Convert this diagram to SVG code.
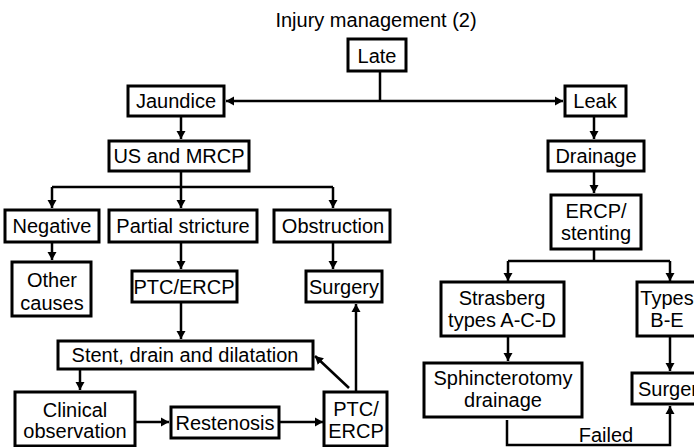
<svg xmlns="http://www.w3.org/2000/svg" width="694" height="447" viewBox="0 0 694 447">
  <defs>
    <style>
      .box { fill: #ffffff; stroke: #000000; stroke-width: 3; }
      .lbl { font-family: "Liberation Sans", Arial, sans-serif; font-size: 20px; fill: #000000; text-anchor: middle; }
      .title { font-family: "Liberation Sans", Arial, sans-serif; font-size: 20px; fill: #000000; text-anchor: middle; }
      .con { fill: none; stroke: #000000; stroke-width: 2.5; }
    </style>
    <marker id="arr" markerUnits="userSpaceOnUse" markerWidth="10" markerHeight="10" refX="8" refY="5" orient="auto">
      <path d="M0,0.5 L8,5 L0,9.5 Z" fill="#000000"/>
    </marker>
  </defs>
  <rect width="694" height="447" fill="#ffffff"/>

  <text class="title" x="376" y="27">Injury management (2)</text>

  <!-- connectors -->
  <g id="connectors">
    <path class="con" d="M380,71 V101"/>
    <path class="con" d="M380,101 H226" marker-end="url(#arr)"/>
    <path class="con" d="M380,101 H563" marker-end="url(#arr)"/>
    <path class="con" d="M181,116 V139" marker-end="url(#arr)"/>
    <path class="con" d="M181,171 V187 M52,187 H333"/>
    <path class="con" d="M52,187 V208" marker-end="url(#arr)"/>
    <path class="con" d="M181,187 V208" marker-end="url(#arr)"/>
    <path class="con" d="M333,187 V208" marker-end="url(#arr)"/>
    <path class="con" d="M52,242 V260" marker-end="url(#arr)"/>
    <path class="con" d="M181,242 V269" marker-end="url(#arr)"/>
    <path class="con" d="M333,242 V269" marker-end="url(#arr)"/>
    <path class="con" d="M181,302 V339" marker-end="url(#arr)"/>
    <path class="con" d="M80,369 V390" marker-end="url(#arr)"/>
    <path class="con" d="M135,422 H169" marker-end="url(#arr)"/>
    <path class="con" d="M279,422 H323" marker-end="url(#arr)"/>
    <path class="con" d="M356,392 V304" marker-end="url(#arr)"/>
    <path class="con" d="M349,388 L315,356" marker-end="url(#arr)"/>
    <path class="con" d="M594,116 V139" marker-end="url(#arr)"/>
    <path class="con" d="M594,171 V193" marker-end="url(#arr)"/>
    <path class="con" d="M594,249 V261 M508,261 H670"/>
    <path class="con" d="M508,261 V281" marker-end="url(#arr)"/>
    <path class="con" d="M670,261 V281" marker-end="url(#arr)"/>
    <path class="con" d="M508,336 V361" marker-end="url(#arr)"/>
    <path class="con" d="M670,336 V371" marker-end="url(#arr)"/>
    <path class="con" d="M507,420 V445 H670 V406" marker-end="url(#arr)"/>
    <text class="lbl" x="606" y="442">Failed</text>
  </g>

  <g id="late"><rect class="box" x="348" y="39" width="58" height="32"/><text class="lbl" x="377" y="63">Late</text></g>
  <g id="jaundice"><rect class="box" x="128" y="86" width="96" height="30"/><text class="lbl" x="176" y="108">Jaundice</text></g>
  <g id="leak"><rect class="box" x="565" y="86" width="61" height="30"/><text class="lbl" x="595" y="108">Leak</text></g>
  <g id="us-mrcp"><rect class="box" x="109" y="141" width="140" height="30"/><text class="lbl" x="179" y="163">US and MRCP</text></g>
  <g id="drainage"><rect class="box" x="548" y="141" width="96" height="30"/><text class="lbl" x="596" y="163">Drainage</text></g>
  <g id="ercp-stenting"><rect class="box" x="551" y="195" width="90" height="54"/><text class="lbl" x="596" y="218">ERCP/</text><text class="lbl" x="596" y="240">stenting</text></g>
  <g id="negative"><rect class="box" x="5" y="210" width="94" height="32"/><text class="lbl" x="52" y="233">Negative</text></g>
  <g id="partial-stricture"><rect class="box" x="109" y="210" width="148" height="32"/><text class="lbl" x="183" y="233">Partial stricture</text></g>
  <g id="obstruction"><rect class="box" x="274" y="210" width="116" height="32"/><text class="lbl" x="333" y="233">Obstruction</text></g>
  <g id="other-causes"><rect class="box" x="12" y="262" width="79" height="54"/><text class="lbl" x="52" y="287">Other</text><text class="lbl" x="52" y="310">causes</text></g>
  <g id="ptc-ercp-1"><rect class="box" x="132" y="271" width="105" height="31"/><text class="lbl" x="184" y="294">PTC/ERCP</text></g>
  <g id="surgery-1"><rect class="box" x="306" y="271" width="76" height="31"/><text class="lbl" x="344" y="294">Surgery</text></g>
  <g id="stent"><rect class="box" x="58" y="341" width="255" height="28"/><text class="lbl" x="185" y="362">Stent, drain and dilatation</text></g>
  <g id="clinical"><rect class="box" x="15" y="392" width="120" height="54"/><text class="lbl" x="75" y="417">Clinical</text><text class="lbl" x="75" y="438">observation</text></g>
  <g id="restenosis"><rect class="box" x="171" y="407" width="108" height="31"/><text class="lbl" x="225" y="430">Restenosis</text></g>
  <g id="ptc-ercp-2"><rect class="box" x="324" y="392" width="63" height="54"/><text class="lbl" x="356" y="416">PTC/</text><text class="lbl" x="356" y="438">ERCP</text></g>
  <g id="strasberg"><rect class="box" x="441" y="282" width="123" height="54"/><text class="lbl" x="502" y="305">Strasberg</text><text class="lbl" x="502" y="327">types A-C-D</text></g>
  <g id="types-be"><rect class="box" x="637" y="282" width="62" height="54"/><text class="lbl" x="667" y="305">Types</text><text class="lbl" x="667" y="327">B-E</text></g>
  <g id="sphincterotomy"><rect class="box" x="424" y="363" width="158" height="54"/><text class="lbl" x="503" y="385">Sphincterotomy</text><text class="lbl" x="503" y="407">drainage</text></g>
  <g id="surgery-2"><rect class="box" x="632" y="373" width="82" height="31"/><text class="lbl" x="673" y="396">Surgery</text></g>
</svg>
